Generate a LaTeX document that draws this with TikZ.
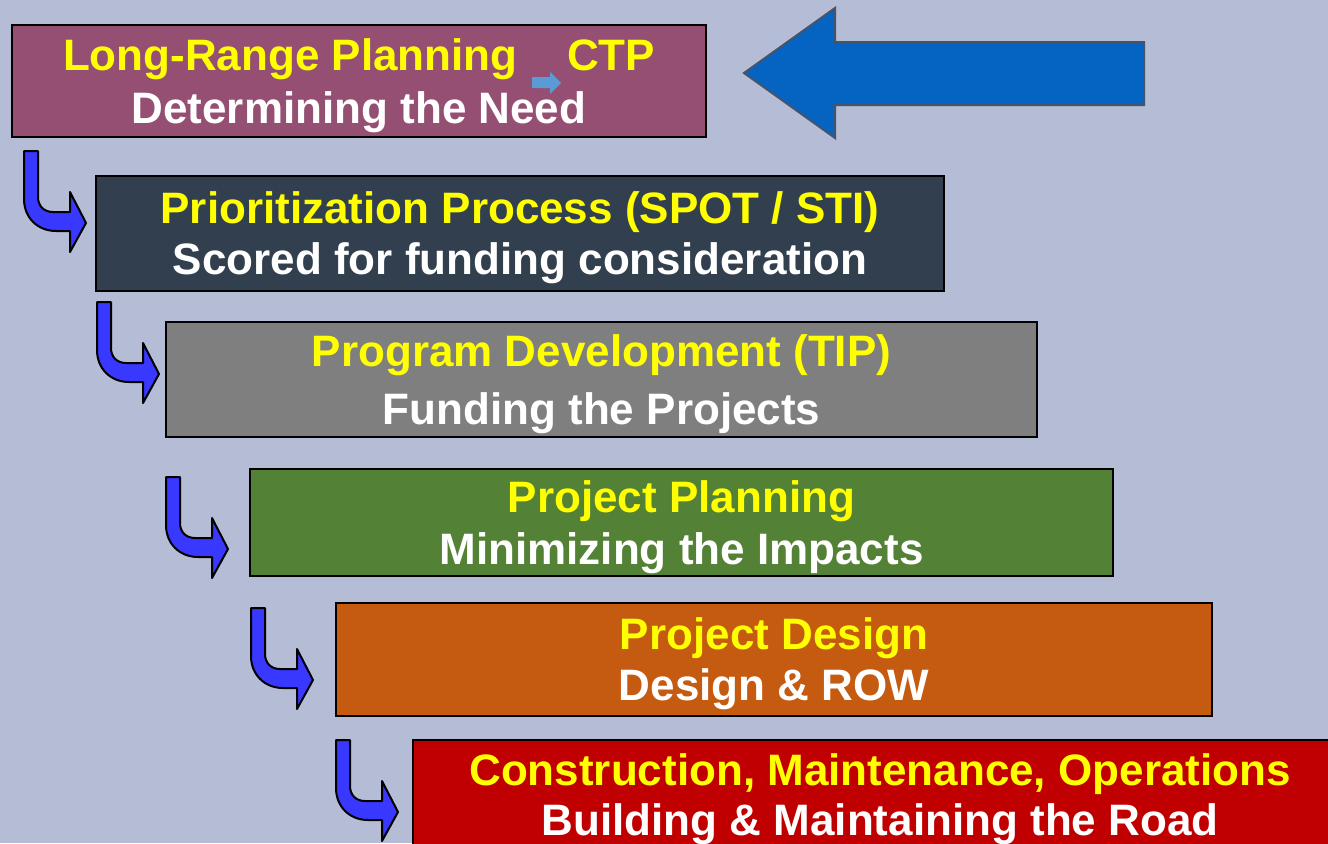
\documentclass[tikz,border=0pt]{standalone}
\usepackage{fontspec}
\setmainfont{Liberation Sans}
\definecolor{bgc}{HTML}{B4BCD6}
\definecolor{cA}{HTML}{954F72}
\definecolor{cB}{HTML}{323F4F}
\definecolor{cC}{HTML}{7F7F7F}
\definecolor{cD}{HTML}{538135}
\definecolor{cE}{HTML}{C55A11}
\definecolor{cF}{HTML}{C00000}
\definecolor{ylw}{HTML}{FFFF00}
\definecolor{bendblue}{HTML}{3838FF}
\definecolor{bigblue}{HTML}{0563C1}
\definecolor{bigedge}{HTML}{44546A}
\definecolor{smallblue}{HTML}{5B9BD5}
\tikzset{
  stagebox/.style={draw=black, line width=1.6pt, inner sep=0pt, outer sep=0pt},
  linetext/.style={inner sep=0pt, outer sep=0pt, anchor=base,
    font={\fontsize{33}{37.5}\selectfont\bfseries}},
  bendarrow/.style={fill=bendblue, draw=black, line width=1.5pt, line join=round},
}
\newcommand{\rowbox}[9]{%
  \pgfmathsetmacro{\cxx}{(#2+#4)/2}%
  \pgfmathsetmacro{\cyy}{(#3+#5)/2}%
  \pgfmathsetmacro{\ww}{(#4-#2)*0.75}%
  \pgfmathsetmacro{\hh}{(#5-#3)*0.75}%
  \pgfmathsetmacro{\bA}{\cyy-(#9-31.5)/2}%
  \pgfmathsetmacro{\bB}{\bA+#9}%
  \node[stagebox, fill=#6, minimum width=\ww pt, minimum height=\hh pt] (#1) at (\cxx,\cyy) {};%
  \node[linetext, text=ylw] (#1top) at (\cxx,\bA) {#7};%
  \node[linetext, text=white] (#1bot) at (\cxx,\bB) {#8};%
}
\newcommand{\bend}[1]{%
  \begin{scope}[shift={#1}]
    \draw[bendarrow] (0,0) -- (14,0) -- (14,46) .. controls (14,55) and (20,61) .. (29,61)
      -- (46,61) -- (46,41) -- (62,72) -- (46,101) -- (46,80) -- (32,80)
      .. controls (14,80) and (0,67) .. (0,48) -- cycle;
  \end{scope}}
\begin{document}
\begin{tikzpicture}[x=0.75pt,y=-0.75pt]
\useasboundingbox (0,0) rectangle (1328,843);
\clip (0,0) rectangle (1328,843);
\fill[bgc] (0,0) rectangle (1328,843);

\rowbox{b1}{12}{25}{706}{137}{cA}{Long-Range Planning\hspace{37pt}CTP}{Determining the Need}{53}
\rowbox{b2}{96}{176}{944}{291}{cB}{Prioritization Process (SPOT / STI)}{Scored for funding consideration}{51}
\rowbox{b3}{166}{322}{1037}{437}{cC}{Program Development (TIP)}{Funding the Projects}{58}
\rowbox{b4}{250}{469}{1113}{576}{cD}{Project Planning}{Minimizing the Impacts}{52}
\rowbox{b5}{336}{603}{1212}{716}{cE}{Project Design}{Design \& ROW}{51}
\rowbox{b6}{413}{740}{1347}{850}{cF}{Construction, Maintenance, Operations}{Building \& Maintaining the Road}{50}

% small inline arrow
\fill[smallblue] (532,77) -- (550,77) -- (550,72) -- (561,83) -- (550,94) -- (550,88) -- (532,88) -- cycle;

% big arrow
\draw[fill=bigblue, draw=bigedge, line width=1.5pt] (744,73) -- (835,8) -- (835,42) -- (1144,42)
  -- (1144,105) -- (835,105) -- (835,138) -- cycle;

\bend{(24,151)}
\bend{(97,302)}
\bend{(166,477)}
\bend{(251,608)}
\bend{(336,740)}
\end{tikzpicture}
\end{document}
